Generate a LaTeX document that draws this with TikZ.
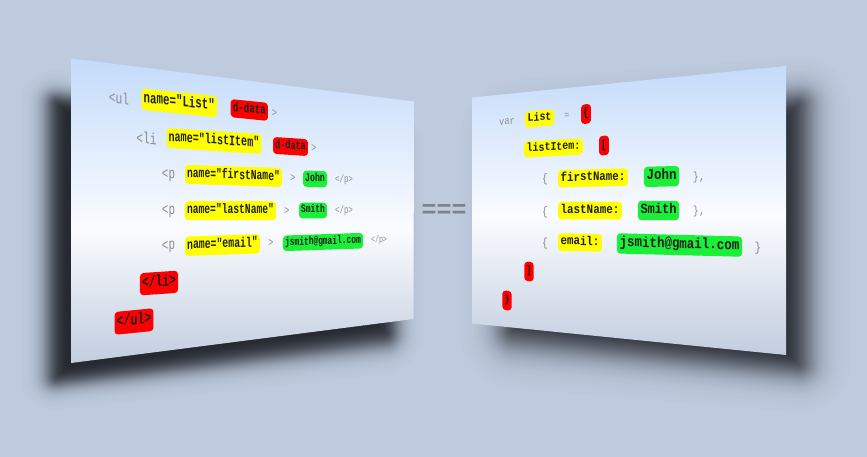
\documentclass[tikz,border=0pt]{standalone}
\usepackage{fontspec}
\setmonofont{Liberation Mono}
\definecolor{bg}{RGB}{190,203,222}
\definecolor{ptop}{RGB}{196,219,250}
\definecolor{pwhite}{RGB}{250,252,255}
\definecolor{pbot}{RGB}{194,205,223}
\definecolor{hlY}{RGB}{255,255,0}
\definecolor{hlR}{RGB}{255,0,0}
\definecolor{hlG}{RGB}{25,240,55}
\definecolor{codegray}{RGB}{140,140,140}
\definecolor{ink}{RGB}{30,30,30}
\definecolor{eqgray}{RGB}{125,130,140}
\definecolor{shadowdark}{RGB}{18,20,26}
\pgfdeclareverticalshading{panelL}{100bp}{color(0bp)=(pbot); color(25bp)=(pbot); color(47bp)=(pwhite); color(75bp)=(ptop); color(100bp)=(ptop)}
\pgfdeclareverticalshading{panelR}{100bp}{color(0bp)=(pbot); color(25bp)=(pbot); color(49bp)=(pwhite); color(75bp)=(ptop); color(100bp)=(ptop)}
\tikzset{
  L/.style={yslant=#1, xscale=0.70},
  R/.style={yslant=#1, xscale=0.85},
  hlsize/.code={%
    \pgfmathsetmacro\hlTH{0.62*#1}%
    \pgfmathsetmacro\hlTD{0.2*#1}%
    \pgfmathsetmacro\hlIS{0.28*#1}%
    \tikzset{text height=\hlTH pt, text depth=\hlTD pt, inner ysep=\hlIS pt,
      font=\ttfamily\bfseries\fontsize{#1}{#1}\selectfont}},
  hl/.style={rounded corners=3.5pt, inner xsep=3pt, text=ink, hlsize=#1},
  yb/.style={hl=#1, fill=hlY},
  rb/.style={hl=#1, fill=hlR},
  rbs/.style={hl=#1, fill=hlR, inner xsep=2.2pt, minimum height=19.5pt},
  gb/.style={hl=#1, fill=hlG},
  gt/.style={text=codegray, inner sep=0pt, font=\ttfamily\fontsize{#1}{#1}\selectfont},
}
% offset of each shadow outline / percentage of background colour in it
\newcommand\shadowprofile{28/98.99,27/98.83,26/98.64,25/98.42,24/98.17,23/97.89,22/97.55,21/97.17,20/96.73,19/96.22,18/95.64,17/94.97,16/94.21,15/93.34,14/92.35,13/91.23,12/89.96,11/88.54,10/86.95,9/85.18,8/83.22,7/81.06,6/78.70,5/76.15,4/73.41,3/70.49,2/67.40,1/64.18,0/60.85,-1/57.45,-2/54.00,-3/50.56,-4/47.15,-5/43.82,-6/40.60,-7/37.51,-8/34.59,-9/31.84,-10/29.30,-11/26.94,-12/24.78,-13/22.82,-14/21.05,-15/19.46,-16/18.04,-17/16.77,-18/15.65,-19/14.66,-20/13.79,-21/13.03,-22/12.36,-23/11.78,-24/11.27}
\begin{document}
\begin{tikzpicture}[x=1pt, y=-1pt]
\useasboundingbox (0,0) rectangle (867,457);
\fill[bg] (0,0) rectangle (867,457);
% soft shadows: opaque outlines painted from the outside in, darker each step
\foreach \shs/\shp in \shadowprofile {
  \colorlet{shcol}{bg!\shp!shadowdark}
  \pgfmathsetmacro\shL{0.9*\shs}
  \pgfmathsetmacro\shR{1.4*\shs}
  \pgfmathsetmacro\shRL{max(\shL+12,1)}
  \pgfmathsetmacro\shRR{max(\shR+14,1)}
  \fill[shcol, rounded corners=\shRL pt] ({46-\shL},{92-\shL}) -- ({398+\shL},{135-\shL}) -- ({398+\shL},{345+\shL}) -- ({46-\shL},{388+\shL}) -- cycle;
  \fill[shcol, rounded corners=\shRR pt] ({499-\shR},{123.5-\shR}) -- ({811+\shR},{92-\shR}) -- ({811+\shR},{377+\shR}) -- ({499-\shR},{344.5+\shR}) -- cycle;
}
% panels
\shade[shading=panelL] (71,58.5) -- (414,101.5) -- (413.5,319) -- (71,363) -- cycle;
\shade[shading=panelR] (472,97.5) -- (786,66) -- (786,355) -- (472,323.5) -- cycle;
% ---------- left panel (HTML) ----------
\node[gt=16, L=-0.102] (ul) at (119,98) {<ul};
\node[yb=15.4, L=-0.102] (a1) at (179.3,103) {name="List"};
\node[rb=13.1, L=-0.102] (a2) at (249.3,110) {d-data};
\node[gt=12, L=-0.102] (a3) at (274.5,113) {>};
\node[gt=16, L=-0.065] (li) at (146.5,138) {<li};
\node[yb=14.4, L=-0.065] (b1) at (214,141) {name="listItem"};
\node[rb=12.2, L=-0.065] (b2) at (290.5,146.5) {d-data};
\node[gt=12, L=-0.065] (b3) at (314,148) {>};
\node[gt=15.5, L=-0.033] (p1) at (168.5,176) {<p};
\node[yb=13.8, L=-0.033] (c1) at (233.5,176) {name="firstName"};
\node[gt=12, L=-0.033] (c3) at (293,178) {>};
\node[gb=11.8, L=-0.033] (c2) at (315,179) {John};
\node[gt=10.7, L=-0.033] (c4) at (344,180) {</p>};
\node[gt=15.5, L=0] (p2) at (168.5,212) {<p};
\node[yb=13.8, L=0] (d1) at (230.5,210.7) {name="lastName"};
\node[gt=12, L=0] (d3) at (287,211) {>};
\node[gb=11.3, L=0] (d2) at (313,210.5) {Smith};
\node[gt=10.7, L=0] (d4) at (344,211) {</p>};
\node[gt=15.5, L=0.034] (p3) at (168.5,247) {<p};
\node[yb=14.0, L=0.034] (e1) at (222.5,245) {name="email"};
\node[gt=12, L=0.034] (e3) at (271,243) {>};
\node[gb=11.3, L=0.034] (e2) at (323,242) {jsmith@gmail.com};
\node[gt=9.5, L=0.034] (e4) at (379,240) {</p>};
\node[rb=16.1, L=0.066] (f1) at (159,283) {</li>};
\node[rb=16.5, L=0.099] (g1) at (134,321.5) {</ul>};
% ---------- equivalence ----------
\node[text=eqgray, inner sep=0pt, font=\ttfamily\bfseries\fontsize{25}{25}\selectfont] (eq) at (444,211) {===};
% ---------- right panel (JS) ----------
\node[gt=10.4, R=0.079] (var) at (507,122) {var};
\node[yb=11.7, R=0.079] (r1) at (539.5,118.5) {List};
\node[gt=10, R=0.079] (r1e) at (567,116) {=};
\node[rbs=12, R=0.079] (r1b) at (586,114) {\{};
\node[yb=11.7, R=0.052] (r2) at (553.5,148) {listItem:};
\node[rbs=12, R=0.052] (r2b) at (604,145.5) {[};
\node[gt=12, R=0.025] (r3o) at (545,179) {\{};
\node[yb=12.7, R=0.025] (r3) at (593,178) {firstName:};
\node[gb=14.7, R=0.025] (r3g) at (661.5,176.5) {John};
\node[gt=11.8, R=0.025] (r3c) at (699,177) {\},};
\node[gt=12, R=0] (r4o) at (545,212) {\{};
\node[yb=12.8, R=0] (r4) at (590,210.5) {lastName:};
\node[gb=14.1, R=0] (r4g) at (658.5,210.5) {Smith};
\node[gt=11.8, R=0] (r4c) at (699,211) {\},};
\node[gt=12, R=-0.026] (r5o) at (545,243) {\{};
\node[yb=12.7, R=-0.026] (r5) at (580,242.5) {email:};
\node[gb=14.7, R=-0.026] (r5g) at (679.5,245) {jsmith@gmail.com};
\node[gt=13, R=-0.026] (r5c) at (758,248) {\}};
\node[rbs=11, R=-0.052] (r6) at (529,271.5) {]};
\node[rbs=11, R=-0.079] (r7) at (507,300.5) {\}};
\end{tikzpicture}
\end{document}
